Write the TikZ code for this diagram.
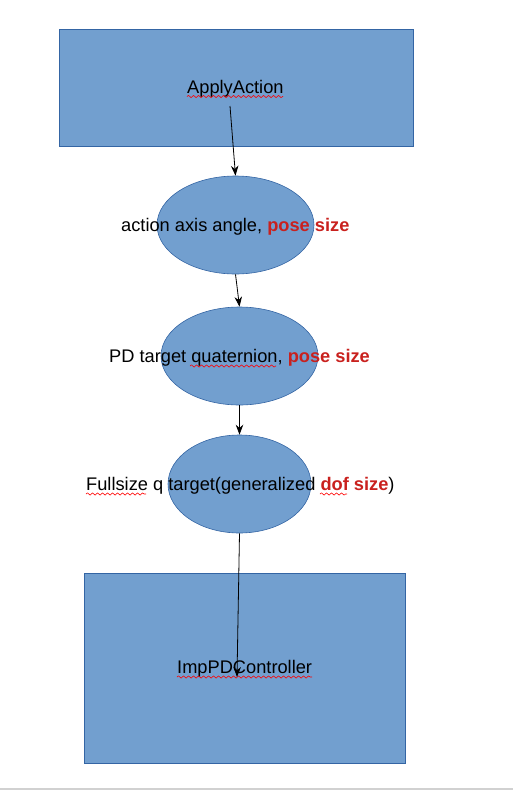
\documentclass[tikz,border=0pt]{standalone}
\usepackage{fontspec}
\setmainfont{Liberation Sans}
\usetikzlibrary{arrows.meta,shapes.geometric,decorations.pathmorphing}
\definecolor{boxfill}{HTML}{729FCF}
\definecolor{boxline}{HTML}{3465A4}
\definecolor{hl}{HTML}{C9211E}
\begin{document}
\begin{tikzpicture}[x=1pt,y=-1pt,
  box/.style={draw=boxline,fill=boxfill,line width=0.6pt,inner sep=0pt},
  lbl/.style={anchor=base west,inner sep=0pt,font=\fontsize{18.25}{20}\selectfont},
  arr/.style={-{Stealth[length=10pt,width=7.5pt]},line width=0.8pt,draw=black},
  squig/.style={draw=red,line width=0.6pt,decorate,decoration={snake,amplitude=1.1pt,segment length=5pt}}]
\useasboundingbox (0,0) rectangle (513,807);
% shapes
\node[box,rectangle,minimum width=354pt,minimum height=117pt] (r1) at (236,87.5) {};
\node[box,ellipse,minimum width=157pt,minimum height=98pt] (e1) at (235.5,225) {};
\node[box,ellipse,minimum width=157pt,minimum height=98pt] (e2) at (239.5,356) {};
\node[box,ellipse,minimum width=143pt,minimum height=98pt] (e3) at (239.5,484) {};
\node[box,rectangle,minimum width=321pt,minimum height=190pt] (r2) at (244.5,668) {};
% labels
\node[lbl] (t1) at (187,93) {ApplyAction};
\node[lbl] (t2) at (121,231) {action axis angle, {\bfseries\color{hl}pose size}};
\node[lbl] (t3) at (109,362) {PD target quaternion, {\bfseries\color{hl}pose size}};
\node[lbl] (t4) at (86,490.5) {Fullsize q target(generalized {\bfseries\color{hl}dof size})};
\node[lbl] (t5) at (177,673.5) {ImpPDController};
% spell-check squiggles
\draw[squig] (187,96.5) -- (283,96.5);
\draw[squig] (190,366) -- (276,366);
\draw[squig] (86,494) -- (146,494);
\draw[squig] (320,494) -- (347,494);
\draw[squig] (177,677) -- (312,677);
% connectors
\coordinate (a1s) at (230,106);
\coordinate (a4e) at (237,677);
\draw[arr] (a1s) -- (e1.north);
\draw[arr] (e1.south) -- (e2.north);
\draw[arr] (e2.south) -- (e3.north);
\draw[arr] (e3.south) -- (a4e);
% bottom rule
\draw[line width=1.5pt,color=black!18] (0,789) -- (513,789);
\end{tikzpicture}
\end{document}
